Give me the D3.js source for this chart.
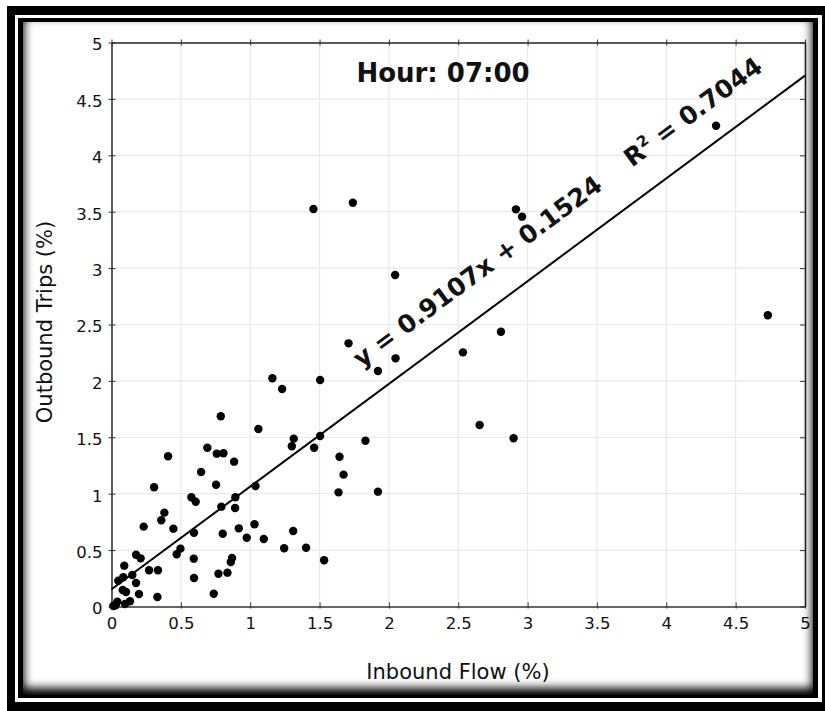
<!DOCTYPE html>
<html>
<head>
<meta charset="utf-8">
<script src="https://cdn.jsdelivr.net/npm/d3@7"></script>
<style>
  body { margin: 0; background: #fff; }
  text { font-family: "DejaVu Sans", sans-serif; fill: #111; }
</style>
</head>
<body>
<div id="chart"></div>
<script>
// hour 07:00 - inbound flow vs outbound trips, both in %
const inboundFlow = [
    1.160, 1.230, 1.504, 0.788, 1.059, 1.314, 1.300, 1.504, 1.461, 0.408,
    0.691, 0.759, 0.807, 0.884, 0.646, 0.754, 0.307, 0.576, 0.607, 0.893,
    1.038, 0.792, 0.891, 0.381, 0.359, 0.232, 0.446, 0.595, 0.802, 0.918,
    0.975, 1.031, 1.098, 1.245, 1.310, 1.403, 0.497, 0.470, 0.177, 0.210,
    0.593, 0.869, 0.860, 0.092, 0.150, 0.271, 0.335, 0.771, 0.836, 0.595,
    0.085, 0.049, 0.177, 0.081, 0.105, 0.198, 0.737, 0.331, 0.133, 0.097,
    0.042, 0.013, 0.030, 1.533, 1.709, 1.921, 2.048, 2.534, 2.808, 1.831,
    1.644, 1.673, 1.637, 1.921, 2.654, 2.899, 1.456, 1.740, 2.916, 2.960,
    2.045, 4.359, 4.732
];
const outboundTrips = [
    2.023, 1.928, 2.008, 1.686, 1.574, 1.488, 1.420, 1.511, 1.408, 1.332,
    1.408, 1.355, 1.358, 1.284, 1.192, 1.080, 1.057, 0.968, 0.929, 0.968,
    1.068, 0.885, 0.873, 0.832, 0.764, 0.708, 0.690, 0.654, 0.645, 0.693,
    0.610, 0.729, 0.598, 0.516, 0.669, 0.521, 0.513, 0.463, 0.459, 0.427,
    0.424, 0.430, 0.395, 0.362, 0.279, 0.321, 0.321, 0.291, 0.300, 0.253,
    0.259, 0.229, 0.208, 0.146, 0.129, 0.111, 0.113, 0.084, 0.046, 0.022,
    0.043, 0.004, 0.010, 0.410, 2.333, 2.088, 2.200, 2.253, 2.436, 1.470,
    1.328, 1.169, 1.012, 1.018, 1.609, 1.491, 3.524, 3.580, 3.521, 3.456,
    2.939, 4.262, 2.582
];
const xTicks = [0, 0.5, 1, 1.5, 2, 2.5, 3, 3.5, 4, 4.5, 5];
const yTicks = [0, 0.5, 1, 1.5, 2, 2.5, 3, 3.5, 4, 4.5, 5];
const slope = 0.9107, intercept = 0.1524, rSquared = 0.7044;
const title = "Hour: 07:00";

const W = 825, H = 711;
const plot = {left: 111.5, right: 805, top: 42.5, bottom: 606.5};

let svg = d3.select("#chart")
    .append("svg")
        .attr("width", W)
        .attr("height", H);

// frame: thick black, white line, thin black, panel with inset shadow
svg.append("rect").attr("x", 7).attr("y", 6).attr("width", W - 7).attr("height", H - 6).attr("fill", "#000");
svg.append("rect").attr("x", 15).attr("y", 15).attr("width", 807).attr("height", 687).attr("fill", "#fff");
svg.append("rect").attr("x", 18).attr("y", 18).attr("width", 800).attr("height", 680).attr("fill", "#000");
let panel = {x: 23, y: 22, w: 790, h: 673};
svg.append("rect").attr("x", panel.x).attr("y", panel.y).attr("width", panel.w).attr("height", panel.h).attr("fill", "#fff");

let defs = svg.append("defs");
defs.append("clipPath").attr("id", "panelClip")
    .append("rect").attr("x", panel.x).attr("y", panel.y).attr("width", panel.w).attr("height", panel.h);
defs.append("filter").attr("id", "blur").attr("x", "-10%").attr("y", "-10%").attr("width", "120%").attr("height", "120%")
    .append("feGaussianBlur").attr("stdDeviation", 5);
svg.append("g").attr("clip-path", "url(#panelClip)")
    .append("rect")
        .attr("x", panel.x - 10).attr("y", panel.y - 16)
        .attr("width", panel.w + 20).attr("height", panel.h + 20)
        .attr("fill", "none").attr("stroke", "#000").attr("stroke-width", 22)
        .attr("filter", "url(#blur)");

let x = d3.scaleLinear().domain([0, 5]).range([plot.left, plot.right]);
let y = d3.scaleLinear().domain([0, 5]).range([plot.bottom, plot.top]);

// grid
let grid = svg.append("g").attr("stroke", "#e9e9e9").attr("stroke-width", 1.2);
grid.selectAll("vgrid").data(xTicks.slice(1, -1)).join("line")
    .attr("x1", d => x(d)).attr("x2", d => x(d))
    .attr("y1", plot.top).attr("y2", plot.bottom);
grid.selectAll("hgrid").data(yTicks.slice(1, -1)).join("line")
    .attr("y1", d => y(d)).attr("y2", d => y(d))
    .attr("x1", plot.left).attr("x2", plot.right);

// axes, ticks cross the frame lines
let fmt = d => String(d);
svg.append("g")
    .attr("transform", `translate(0,${plot.bottom})`)
    .call(d3.axisBottom(x).tickValues(xTicks).tickFormat(fmt).tickSizeInner(-4).tickSizeOuter(0).tickPadding(8))
    .call(g => g.select(".domain").attr("stroke", "#333").attr("stroke-width", 1.6))
    .call(g => g.selectAll(".tick line").attr("stroke", "#333").attr("y2", -4).attr("y1", 2))
    .call(g => g.selectAll(".tick text").attr("font-size", 16.5).attr("font-family", "DejaVu Sans").attr("fill", "#111").attr("y", 11));
svg.append("g")
    .attr("transform", `translate(${plot.left},0)`)
    .call(d3.axisLeft(y).tickValues(yTicks).tickFormat(fmt).tickSizeInner(3).tickSizeOuter(0).tickPadding(6))
    .call(g => g.select(".domain").attr("stroke", "#333").attr("stroke-width", 1.6))
    .call(g => g.selectAll(".tick line").attr("stroke", "#333").attr("x2", -3).attr("x1", 4))
    .call(g => g.selectAll(".tick text").attr("font-size", 16.5).attr("font-family", "DejaVu Sans").attr("fill", "#111").attr("dy", "0.45em"));
svg.append("g")
    .attr("transform", `translate(0,${plot.top})`)
    .call(d3.axisTop(x).tickValues(xTicks).tickFormat("").tickSizeInner(3).tickSizeOuter(0))
    .call(g => g.select(".domain").attr("stroke", "#222").attr("stroke-width", 1.6))
    .call(g => g.selectAll(".tick line").attr("stroke", "#333").attr("y2", -3).attr("y1", 3));
svg.append("g")
    .attr("transform", `translate(${plot.right},0)`)
    .call(d3.axisRight(y).tickValues(yTicks).tickFormat("").tickSizeInner(-5).tickSizeOuter(0))
    .call(g => g.select(".domain").attr("stroke", "#222").attr("stroke-width", 1.6))
    .call(g => g.selectAll(".tick line").attr("stroke", "#333"));

// trend line
svg.append("line")
    .attr("x1", x(0)).attr("y1", y(intercept))
    .attr("x2", x(5)).attr("y2", y(slope * 5 + intercept))
    .attr("stroke", "#000").attr("stroke-width", 2);

// points
svg.selectAll("dots")
    .data(inboundFlow.map((v, i) => [v, outboundTrips[i]]))
    .join("circle")
    .attr("cx", d => x(d[0]))
    .attr("cy", d => y(d[1]))
    .attr("r", 4.2)
    .attr("fill", "#000");

// equation along the trend line
let angle = Math.atan2(y(slope * 5 + intercept) - y(intercept), x(5) - x(0)) * 180 / Math.PI;
let x0 = 1.925;
let ux = Math.sin(angle * Math.PI / 180), uy = -Math.cos(angle * Math.PI / 180);
let px = x(x0) + 29 * ux, py = y(slope * x0 + intercept) + 29 * uy;
let eq = svg.append("text")
    .attr("transform", `translate(${px},${py}) rotate(${angle})`)
    .attr("font-size", 25)
    .attr("font-weight", "bold")
    .attr("fill", "#000");
eq.append("tspan").text(`y = ${slope}x + ${intercept}\u00a0\u00a0\u00a0\u00a0R`);
eq.append("tspan").attr("font-size", 15).attr("dy", -10).text("2");
eq.append("tspan").attr("dy", 10).text(` = ${rSquared}`);

// title and axis titles
svg.append("text")
    .attr("x", 443).attr("y", 82)
    .attr("text-anchor", "middle")
    .attr("font-size", 26)
    .attr("font-weight", "bold")
    .attr("fill", "#000")
    .text(title);
svg.append("text")
    .attr("x", 458).attr("y", 679)
    .attr("text-anchor", "middle")
    .attr("font-size", 21)
    .attr("fill", "#222")
    .text("Inbound Flow (%)");
svg.append("text")
    .attr("transform", "translate(52,322) rotate(-90)")
    .attr("text-anchor", "middle")
    .attr("font-size", 21)
    .attr("fill", "#222")
    .text("Outbound Trips (%)");
</script>
</body>
</html>
